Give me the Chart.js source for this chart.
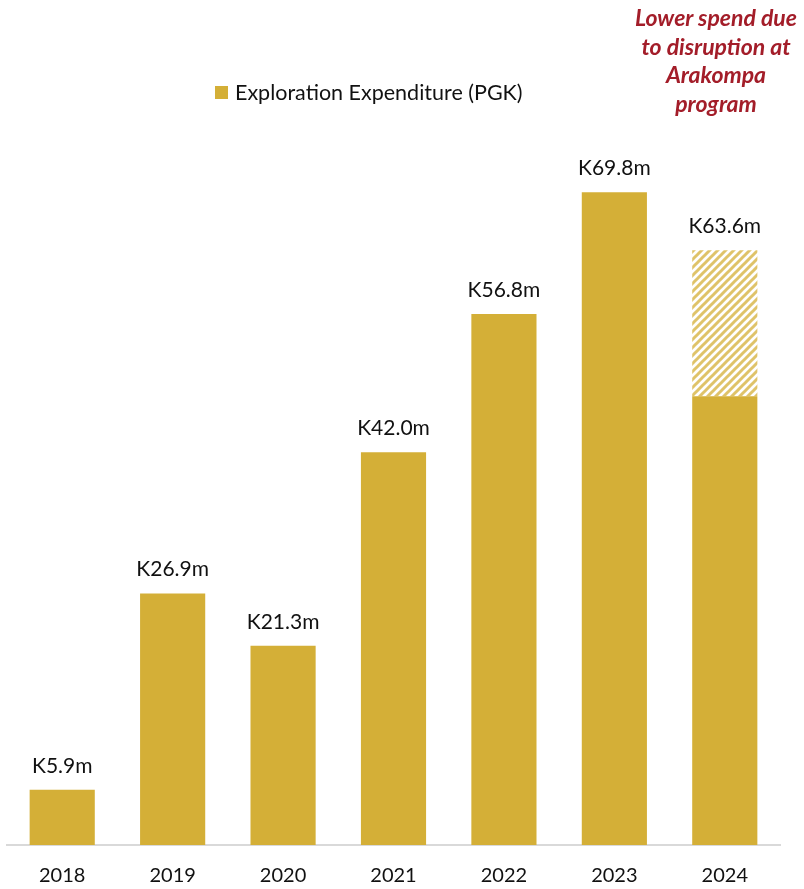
<!DOCTYPE html>
<html>
<head>
<meta charset="utf-8">
<script src="https://cdn.jsdelivr.net/npm/chart.js@4.4.0/dist/chart.umd.min.js"></script>
<style>
  body { margin: 0; background: #fff; font-family: Lato, sans-serif; }
  #wrap { position: relative; width: 804px; height: 889px; }
  #legend { position: absolute; left: 215px; top: 79px; height: 26px; font-size: 21.5px; color: #111;
            display: flex; align-items: center; }
  #legend .swatch { width: 13px; height: 13px; background: #D4AF37; margin-right: 7px; }
  #note { position: absolute; left: 606px; width: 220px; top: 3px; text-align: center;
          font: italic bold 23px/28.5px Lato, sans-serif; color: #A31D29; }
</style>
</head>
<body>
<div id="wrap">
  <canvas id="spendChart" width="804" height="889"></canvas>
  <div id="legend"><span class="swatch"></span>Exploration Expenditure (PGK)</div>
  <div id="note">Lower spend due<br>to disruption at<br>Arakompa<br>program</div>
</div>
<script>
const years = ['2018', '2019', '2020', '2021', '2022', '2023', '2024'];
const spend = [5.9, 26.9, 21.3, 42.0, 56.8, 69.8, 48.0];
// part of the 2024 total shown hatched
const shortfall = [0, 0, 0, 0, 0, 0, 15.6];

const gold = '#D4AF37';

function hatchPattern() {
  const c = document.createElement('canvas');
  c.width = 8;
  c.height = 8;
  const g = c.getContext('2d');
  g.fillStyle = '#fff';
  g.fillRect(0, 0, 8, 8);
  g.strokeStyle = 'rgba(212,175,55,0.75)';
  g.lineWidth = 3;
  g.beginPath();
  g.moveTo(-2, 10); g.lineTo(10, -2);
  g.moveTo(-2, 2); g.lineTo(2, -2);
  g.moveTo(6, 10); g.lineTo(10, 6);
  g.stroke();
  return g.createPattern(c, 'repeat');
}

// "K63.6m" style labels above each stacked total
const valueLabels = {
  id: 'valueLabels',
  afterDatasetsDraw(chart) {
    const { ctx } = chart;
    const y = chart.scales.y;
    const meta = chart.getDatasetMeta(0);
    ctx.save();
    ctx.font = '21px Lato, sans-serif';
    ctx.fillStyle = '#111';
    ctx.textAlign = 'center';
    ctx.textBaseline = 'alphabetic';
    spend.forEach((v, i) => {
      const total = v + shortfall[i];
      const x = meta.data[i].x;
      ctx.fillText('K' + total.toFixed(1) + 'm', x, y.getPixelForValue(total) - 17);
    });
    ctx.restore();
  }
};

new Chart(document.getElementById('spendChart'), {
  type: 'bar',
  data: {
    labels: years,
    datasets: [
      {
        label: 'Exploration Expenditure (PGK)',
        data: spend,
        backgroundColor: gold,
        categoryPercentage: 1,
        barPercentage: 0.59
      },
      {
        label: 'Disruption',
        data: shortfall,
        backgroundColor: hatchPattern(),
        categoryPercentage: 1,
        barPercentage: 0.59
      }
    ]
  },
  options: {
    responsive: false,
    animation: false,
    layout: { padding: { top: 97, left: 7, right: 24, bottom: 0 } },
    plugins: {
      legend: { display: false },
      tooltip: { enabled: false }
    },
    scales: {
      x: {
        stacked: true,
        grid: { display: false, drawTicks: true, tickLength: 18 },
        border: { display: true, color: '#D9D9D9', width: 2 },
        ticks: { color: '#111', padding: 3, font: { family: 'Lato', size: 20, lineHeight: 1 } }
      },
      y: {
        stacked: true,
        display: false,
        min: 0,
        max: 80
      }
    }
  },
  plugins: [valueLabels]
});
</script>
</body>
</html>
